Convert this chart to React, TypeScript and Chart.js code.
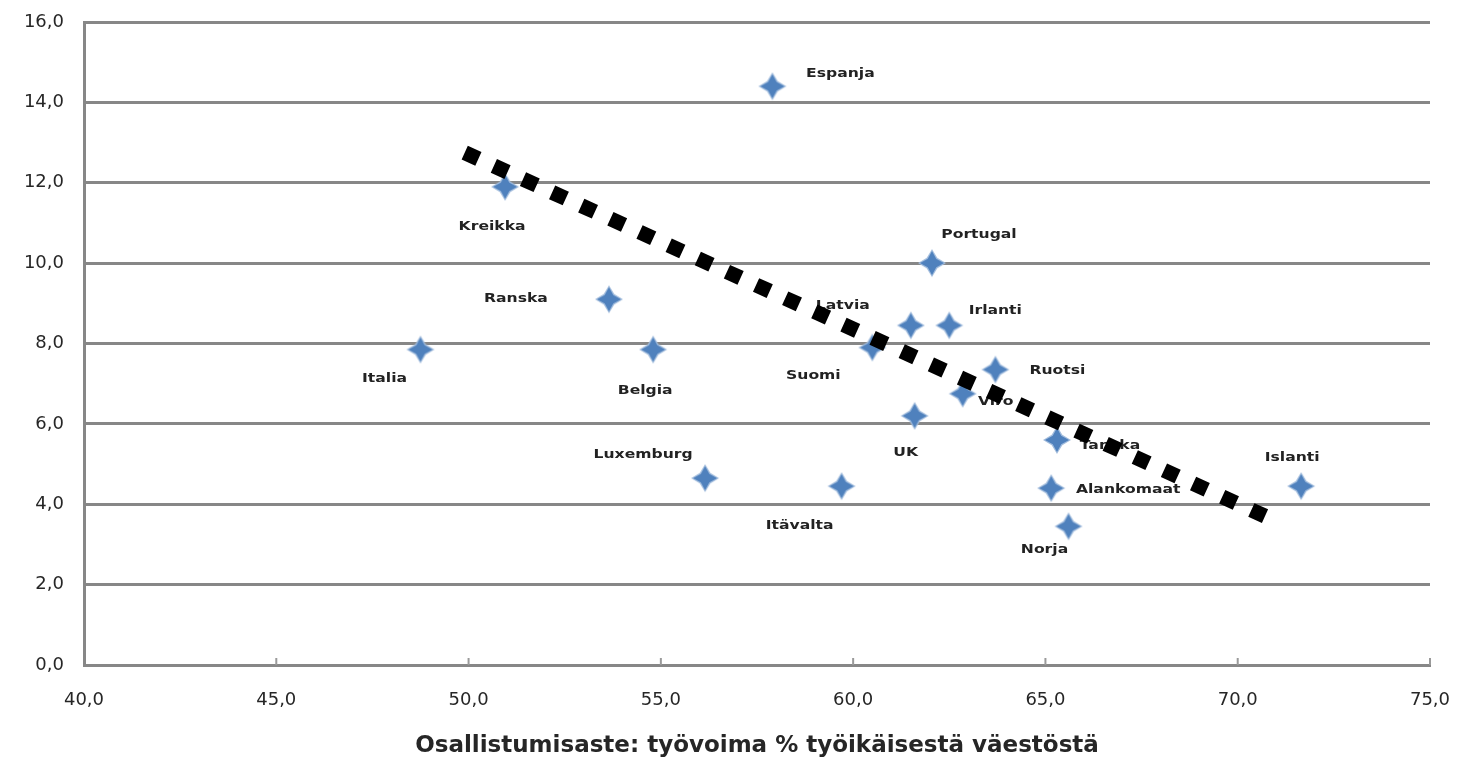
import React, { useEffect, useRef } from 'react';
import { Chart, registerables, ChartConfiguration, Plugin } from 'chart.js';

Chart.register(...registerables);

// Country labels (Finnish) and the values
const countries = [
  'Espanja', 'Kreikka', 'Ranska', 'Italia', 'Belgia', 'Luxemburg', 'Itävalta', 'Portugal', 'Latvia',
  'Irlanti', 'Suomi', 'Ruotsi', 'Viro', 'UK', 'Tanska', 'Alankomaat', 'Norja', 'Islanti',
];
const participation = [57.9, 50.95, 53.65, 48.75, 54.8, 56.15, 59.7, 62.05, 61.5, 62.5, 60.5, 63.7, 62.85, 61.6, 65.3, 65.15, 65.6, 71.65];
const unemployment = [14.4, 11.9, 9.1, 7.85, 7.85, 4.65, 4.45, 10.0, 8.45, 8.45, 7.9, 7.35, 6.75, 6.2, 5.6, 4.4, 3.45, 4.45];

// Trend line end points
const trendX = [49.9, 70.9];
const trendY = [12.75, 3.62];

const X_MIN = 40;
const X_MAX = 75;
const X_STEP = 5;
const Y_MIN = 0;
const Y_MAX = 16;
const Y_STEP = 2;
const xTitle = 'Osallistumisaste: työvoima % työikäisestä väestöstä';

// label placement relative to its marker, in px (hand placed in the original)
const labelOffsets: [number, number][] = [
  [68, -12], [-13, 40], [-93, 0], [-36, 29], [-8, 41], [-62, -23], [-42, 40], [47, -28], [-68, -20],
  [46, -15], [-59, 28], [62, 1], [33, 8], [-9, 37], [53, 6], [77, 2], [-24, 24], [-9, -28],
];

const GRID = '#878787';
const BLUE = '#4F81BD';
const FONT = '"DejaVu Sans", sans-serif';

const fmt = (v: number) => v.toFixed(1).replace('.', ',');

function makeStar(): HTMLCanvasElement {
  const c = document.createElement('canvas');
  c.width = 30;
  c.height = 30;
  const ctx = c.getContext('2d')!;
  const star = (outer: number, inner: number, color: string) => {
    ctx.beginPath();
    for (let i = 0; i < 8; i++) {
      const a = (i * Math.PI) / 4 - Math.PI / 2;
      const r = i % 2 === 0 ? outer : inner;
      ctx.lineTo(15 + r * Math.cos(a), 15 + r * Math.sin(a));
    }
    ctx.closePath();
    ctx.fillStyle = color;
    ctx.fill();
  };
  star(14, 7.5, '#A3BDDD');
  star(12, 6, BLUE);
  return c;
}

const pointLabels: Plugin<'scatter'> = {
  id: 'pointLabels',
  beforeDatasetsDraw(chart) {
    const { ctx, scales } = chart;
    ctx.save();
    ctx.font = `bold 12px ${FONT}`;
    ctx.fillStyle = '#222';
    ctx.textAlign = 'center';
    ctx.textBaseline = 'middle';
    countries.forEach((name, i) => {
      const px = scales.x.getPixelForValue(participation[i]) + labelOffsets[i][0];
      const py = scales.y.getPixelForValue(unemployment[i]) + labelOffsets[i][1];
      ctx.save();
      ctx.translate(px, py);
      ctx.scale(1.3, 1);
      ctx.fillText(name, 0, 0);
      ctx.restore();
    });
    ctx.restore();
  },
};

const innerTicks: Plugin<'scatter'> = {
  id: 'innerTicks',
  afterDraw(chart) {
    const { ctx, scales, chartArea } = chart;
    ctx.save();
    ctx.strokeStyle = '#9a9a9a';
    ctx.lineWidth = 2;
    for (let v = X_MIN + X_STEP; v <= X_MAX; v += X_STEP) {
      const x = scales.x.getPixelForValue(v);
      ctx.beginPath();
      ctx.moveTo(x, chartArea.bottom);
      ctx.lineTo(x, chartArea.bottom - 7);
      ctx.stroke();
    }
    ctx.restore();
  },
};

const ScatterChart: React.FC = () => {
  const canvasRef = useRef<HTMLCanvasElement | null>(null);

  useEffect(() => {
    const canvas = canvasRef.current;
    if (!canvas) return;
    document.body.style.margin = '0';

    const config: ChartConfiguration<'scatter'> = {
      type: 'scatter',
      data: {
        datasets: [
          {
            label: 'Trendi',
            data: trendX.map((x, i) => ({ x, y: trendY[i] })),
            showLine: true,
            borderColor: '#000',
            borderWidth: 15,
            borderDash: [15, 17],
            pointRadius: 0,
          },
          {
            label: 'Maat',
            data: participation.map((x, i) => ({ x, y: unemployment[i] })),
            pointStyle: makeStar(),
            backgroundColor: BLUE,
          },
        ],
      },
      options: {
        responsive: false,
        animation: false,
        layout: { padding: { top: 22, right: 30, left: 0, bottom: 0 } },
        plugins: { legend: { display: false }, tooltip: { enabled: false } },
        scales: {
          x: {
            type: 'linear',
            min: X_MIN,
            max: X_MAX,
            ticks: {
              stepSize: X_STEP,
              padding: 25,
              color: '#262626',
              font: { family: FONT, size: 18 },
              callback: (v) => fmt(Number(v)),
              maxRotation: 0,
            },
            grid: { display: false, drawTicks: false },
            border: { color: GRID, width: 3 },
            title: {
              display: true,
              text: xTitle,
              color: '#262626',
              font: { family: FONT, size: 23, weight: 'bold' },
              padding: { top: 0, bottom: 4 },
            },
            afterFit: (s: any) => {
              s.height = 99;
              s.paddingLeft = 0;
              s.paddingRight = 0;
            },
          },
          y: {
            type: 'linear',
            min: Y_MIN,
            max: Y_MAX,
            ticks: {
              stepSize: Y_STEP,
              padding: 20,
              color: '#262626',
              font: { family: FONT, size: 18 },
              callback: (v) => fmt(Number(v)),
            },
            grid: { color: GRID, lineWidth: 3, drawTicks: false },
            border: { color: GRID, width: 3 },
            afterFit: (s: any) => {
              s.width = 84;
              s.paddingTop = 0;
              s.paddingBottom = 0;
            },
          },
        },
      },
      plugins: [pointLabels, innerTicks],
    };

    const chart = new Chart(canvas, config);
    return () => chart.destroy();
  }, []);

  return <canvas ref={canvasRef} width={1460} height={764} style={{ display: 'block' }} />;
};

export default function App() {
  return <ScatterChart />;
}
